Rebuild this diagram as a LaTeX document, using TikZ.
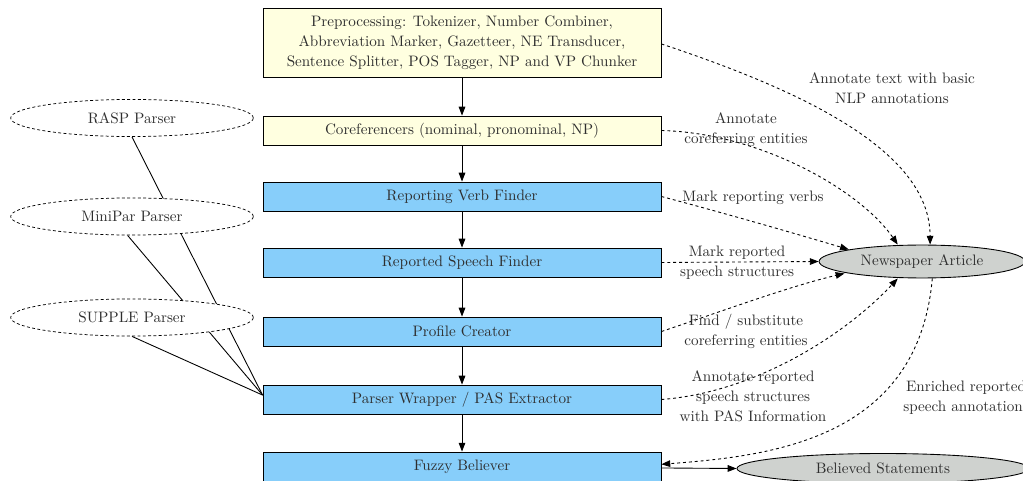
\documentclass[tikz,border=0pt]{standalone}
\usetikzlibrary{shapes.geometric,arrows.meta,backgrounds}
\definecolor{boxyellow}{HTML}{FFFFE0}
\definecolor{boxblue}{HTML}{87CEFA}
\definecolor{ellgray}{HTML}{CFD2CF}
\definecolor{txt}{HTML}{2E2E2E}
\begin{document}
\begin{tikzpicture}[x=0.68pt,y=-0.68pt,
  every node/.style={font=\fontsize{10.3}{13.6}\selectfont, text=txt},
  procbox/.style={draw, line width=0.6pt, minimum width=270.6pt, minimum height=19.7pt, inner sep=2pt, align=center},
  yellowbox/.style={procbox, fill=boxyellow},
  bluebox/.style={procbox, fill=boxblue},
  parser/.style={ellipse, draw, dash pattern=on 2pt off 1.6pt, line width=0.5pt, fill=white, minimum width=165pt, minimum height=25.2pt, inner sep=0pt},
  docell/.style={ellipse, draw, line width=0.6pt, fill=ellgray, inner sep=0pt},
  flow/.style={-{Triangle[length=6pt,width=4.5pt]}, line width=0.6pt},
  annot/.style={-{Triangle[length=6pt,width=4.5pt]}, line width=0.6pt, dash pattern=on 2pt off 2pt},
  plain/.style={line width=0.6pt},
  lbl/.style={align=center, inner sep=0pt}
]
\useasboundingbox (0,0) rectangle (1023,481);
\clip (0,0) rectangle (1023,481);

% pipeline boxes
\node[yellowbox, minimum height=46.9pt] (pre) at (462,42.5) {Preprocessing: Tokenizer, Number Combiner,\\Abbreviation Marker, Gazetteer, NE Transducer,\\Sentence Splitter, POS Tagger, NP and VP Chunker};
\node[yellowbox] (coref) at (462,130.5) {Coreferencers (nominal, pronominal, NP)};
\node[bluebox] (rvf) at (462,196.5) {Reporting Verb Finder};
\node[bluebox] (rsf) at (462,262.5) {Reported Speech Finder};
\node[bluebox] (prof) at (462,331.5) {Profile Creator};
\node[bluebox] (wrap) at (462,399.5) {Parser Wrapper / PAS Extractor};
\node[bluebox] (fuzzy) at (462,466.5) {Fuzzy Believer};

% parsers
\node[parser] (rasp) at (132,118) {RASP Parser};
\node[parser] (mini) at (132,216.5) {MiniPar Parser};
\node[parser] (supple) at (132,317.5) {SUPPLE Parser};

% documents
\node[docell, minimum width=140pt, minimum height=22.4pt] (news) at (922,261.5) {Newspaper Article};
\node[docell, minimum width=198.6pt, minimum height=20.4pt] (believed) at (883,468.5) {Believed Statements};

% parser connections (behind parser ellipses)
\begin{scope}[on background layer]
\draw[plain] (rasp.south) -- ([yshift=3pt]wrap.west);
\draw[plain] ([xshift=-3pt]mini.south) -- ([yshift=3pt]wrap.west);
\draw[plain] (supple.south) -- ([yshift=3pt]wrap.west);
\end{scope}

% main flow
\draw[flow] (pre) -- (coref);
\draw[flow] (coref) -- (rvf);
\draw[flow] (rvf) -- (rsf);
\draw[flow] (rsf) -- (prof);
\draw[flow] (prof) -- (wrap);
\draw[flow] (wrap) -- (fuzzy);
\draw[flow] ([yshift=-1pt]fuzzy.east) -- (believed.west);

% annotations
\draw[annot] ([yshift=-1pt]pre.east) .. controls (800,90) and (930,150) .. ([xshift=5.5pt]news.north);
\draw[annot] (coref.east) .. controls (760,133) and (860,190) .. ([xshift=-16.5pt]news.north);
\draw[annot] (rvf.east) .. controls (720,212) and (790,232) .. (news.north west);
\draw[annot] (rsf.east) -- (news.west);
\draw[annot] (prof.east) .. controls (720,312) and (790,286) .. ([xshift=-3pt]news.south west);
\draw[annot] (wrap.east) .. controls (760,392) and (850,330) .. ([xshift=-16.5pt]news.south);
\draw[annot] ([xshift=7pt]news.south) .. controls (918,440) and (770,456) .. ([yshift=1.5pt]fuzzy.east);

% edge labels
\node[lbl] (l1) at (892,88.5) {Annotate text with basic\\NLP annotations};
\node[lbl] (l2) at (746,129.5) {Annotate\\coreferring entities};
\node[lbl] (l3) at (753,198) {Mark reporting verbs};
\node[lbl] (l4) at (737,262.5) {Mark reported\\speech structures};
\node[lbl] (l5) at (746,331) {Find / substitute\\coreferring entities};
\node[lbl] (l6) at (753,396.5) {Annotate reported\\speech structures\\with PAS Information};
\node[lbl, anchor=west] (l7) at (903,398) {Enriched reported\\speech annotations};
\end{tikzpicture}
\end{document}
